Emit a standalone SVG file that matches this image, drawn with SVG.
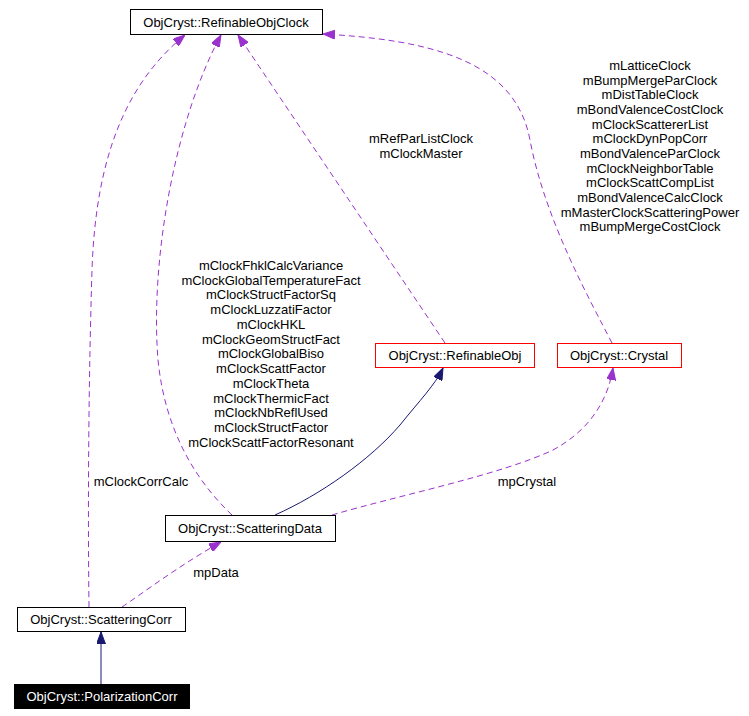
<svg xmlns="http://www.w3.org/2000/svg" width="749" height="716" viewBox="0 0 749 716">
<style>
text{font-family:"Liberation Sans",Arial,sans-serif;font-size:13px;fill:#000;text-anchor:middle}
.box{fill:#fff;stroke:#000;stroke-width:1}
.red{fill:#fff;stroke:#ff0000;stroke-width:1}
.dash{fill:none;stroke:#9a32cd;stroke-width:1;stroke-dasharray:6,4;marker-end:url(#ap)}
.solid{fill:none;stroke:#191970;stroke-width:1;marker-end:url(#an)}
</style>
<defs>
<marker id="ap" viewBox="0 0 12 9" refX="12" refY="4.5" markerUnits="userSpaceOnUse" markerWidth="12" markerHeight="9" orient="auto"><path d="M0,0 L12,4.5 L0,9 z" fill="#9a32cd" stroke="#9a32cd"/></marker>
<marker id="an" viewBox="0 0 12 9" refX="12" refY="4.5" markerUnits="userSpaceOnUse" markerWidth="12" markerHeight="9" orient="auto"><path d="M0,0 L12,4.5 L0,9 z" fill="#191970" stroke="#191970"/></marker>
</defs>
<rect width="749" height="716" fill="#fff"/>
<g id="connectors">
<path class="solid" d="M101,684 L101,632"/>
<path class="solid" d="M275,515 C320,495 370,460 400,425 C420,400 435,385 443,368"/>
<path class="dash" d="M122,607 C140,595 180,565 221,542"/>
<text x="216" y="577">mpData</text>
<path class="dash" d="M89,607 C88,530 88,400 92,270 C96,150 130,80 185,35"/>
<text x="141" y="486">mClockCorrCalc</text>
<path class="dash" d="M232,515 C195,480 165,430 158,360 C150,260 175,120 221,35"/>
<text x="271" y="270">mClockFhklCalcVariance</text>
<text x="271" y="285">mClockGlobalTemperatureFact</text>
<text x="271" y="299">mClockStructFactorSq</text>
<text x="271" y="314">mClockLuzzatiFactor</text>
<text x="271" y="329">mClockHKL</text>
<text x="271" y="344">mClockGeomStructFact</text>
<text x="271" y="358">mClockGlobalBiso</text>
<text x="271" y="373">mClockScattFactor</text>
<text x="271" y="388">mClockTheta</text>
<text x="271" y="403">mClockThermicFact</text>
<text x="271" y="417">mClockNbReflUsed</text>
<text x="271" y="432">mClockStructFactor</text>
<text x="271" y="447">mClockScattFactorResonant</text>
<path class="dash" d="M445,343 L238,35"/>
<text x="421" y="143">mRefParListClock</text>
<text x="421" y="158">mClockMaster</text>
<path class="dash" d="M612,343 C590,300 545,220 530,140 C515,60 430,40 323,34"/>
<text x="650" y="70">mLatticeClock</text>
<text x="650" y="85">mBumpMergeParClock</text>
<text x="650" y="99">mDistTableClock</text>
<text x="650" y="114">mBondValenceCostClock</text>
<text x="650" y="129">mClockScattererList</text>
<text x="650" y="143">mClockDynPopCorr</text>
<text x="650" y="158">mBondValenceParClock</text>
<text x="650" y="173">mClockNeighborTable</text>
<text x="650" y="187">mClockScattCompList</text>
<text x="650" y="202">mBondValenceCalcClock</text>
<text x="650" y="217">mMasterClockScatteringPower</text>
<text x="650" y="231">mBumpMergeCostClock</text>
<path class="dash" d="M332,515 C400,495 500,475 553,450 C590,430 608,400 613,368"/>
<text x="527" y="486">mpCrystal</text>
</g>
<g id="RefinableObjClock"><rect class="box" x="130.5" y="9.5" width="192" height="25"/><text x="226" y="27">ObjCryst::RefinableObjClock</text></g>
<g id="RefinableObj"><rect class="red" x="375.5" y="343.5" width="159" height="24"/><text x="455" y="360">ObjCryst::RefinableObj</text></g>
<g id="Crystal"><rect class="red" x="557.5" y="343.5" width="124" height="24"/><text x="619" y="360">ObjCryst::Crystal</text></g>
<g id="ScatteringData"><rect class="box" x="165.5" y="515.5" width="170" height="26"/><text x="250" y="533">ObjCryst::ScatteringData</text></g>
<g id="ScatteringCorr"><rect class="box" x="17.5" y="607.5" width="168" height="24"/><text x="101" y="624">ObjCryst::ScatteringCorr</text></g>
<g id="PolarizationCorr"><rect x="14" y="684" width="176" height="25" fill="#000"/><text x="102" y="701" style="fill:#fff">ObjCryst::PolarizationCorr</text></g>
</svg>
